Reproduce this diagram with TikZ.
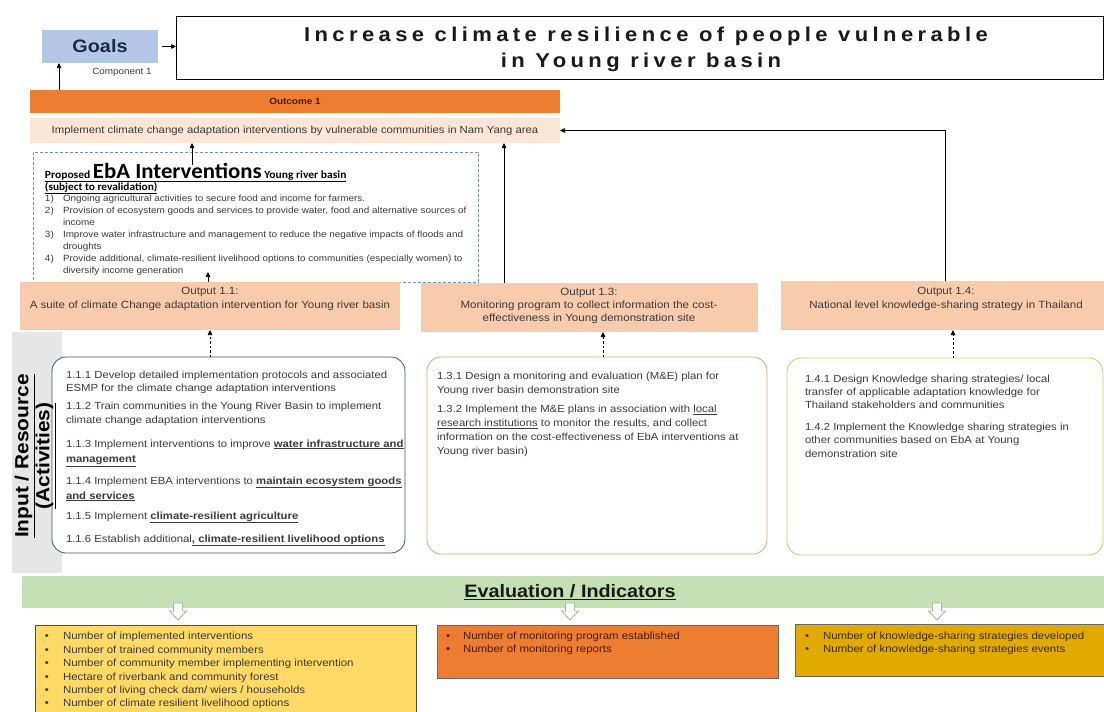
\documentclass[tikz,border=0pt]{standalone}
\usepackage{fontspec}
\setmainfont{Liberation Sans}[FakeStretch=1.1]
\newfontfamily\calib{Carlito}[FakeStretch=1.05]
\usetikzlibrary{arrows.meta}
\definecolor{goalblue}{HTML}{B4C7E7}
\definecolor{goaltxt}{HTML}{1F2A40}
\definecolor{orng}{HTML}{ED7D31}
\definecolor{peach}{HTML}{FBE5D6}
\definecolor{salmon}{HTML}{F8CBAD}
\definecolor{txt}{HTML}{3A3A3A}
\definecolor{dashblue}{HTML}{6F8FB5}
\definecolor{bandgray}{HTML}{E7E6E6}
\definecolor{slate}{HTML}{44546A}
\definecolor{lorange}{HTML}{E9A46E}
\definecolor{khaki}{HTML}{D6C36E}
\definecolor{evgreen}{HTML}{C5E0B4}
\definecolor{garrowc}{HTML}{9DC289}
\definecolor{yel}{HTML}{FFD966}
\definecolor{goldc}{HTML}{E2AA00}
\definecolor{redtxt}{HTML}{4A1A05}
\definecolor{goldtxt}{HTML}{3A2C00}
\begin{document}
\begin{tikzpicture}[x=1pt,y=-1pt,
  every node/.style={inner sep=0pt, outer sep=0pt},
  box/.style={anchor=north west, draw=none},
  ln/.style={anchor=base west, text=txt},
  actfont/.style={font=\fontsize{10.3}{12}\selectfont},
  itemfont/.style={font=\fontsize{9}{10}\selectfont},
  indfont/.style={font=\fontsize{10.4}{12}\selectfont},
  titlefont/.style={font=\fontsize{20}{22}\selectfont\bfseries\addfontfeature{LetterSpace=22}, text=black!90},
  arr/.style={-{Triangle[length=5pt,width=4.5pt]}, line width=0.7pt, draw=black},
  darr/.style={arr, dash pattern=on 2.5pt off 2pt},
  actbox/.style={anchor=north west, draw, line width=0.8pt, rounded corners=14pt, fill=white},
  outbox/.style={anchor=north west, fill=salmon},
  garrow/.pic={\draw[draw=garrowc, fill=white, line width=0.9pt] (-4.5,0) -- (4.5,0) -- (4.5,8) -- (8.5,8) -- (0,17) -- (-8.5,8) -- (-4.5,8) -- cycle;}
]
\useasboundingbox (0,0) rectangle (1104,712);
\fill[white] (0,0) rectangle (1104,712);

% Goals and title
\node[box, fill=goalblue, minimum width=116, minimum height=33, font=\fontsize{18}{20}\selectfont\bfseries, text=goaltxt] (goals) at (42,30) {Goals};
\node[font=\fontsize{9}{10}\selectfont, text=txt] (comp) at (122,72) {Component 1};
\node[box, draw=black, line width=0.8pt, minimum width=927, minimum height=63] (title) at (176,16) {};
\node[titlefont] (t1) at (646,36) {Increase climate resilience of people vulnerable};
\node[titlefont] (t2) at (641,62) {in Young river basin};
\draw[arr] ([xshift=4pt]goals.east) -- (goals.east -| title.west);

% Outcome
\node[box, fill=orng, minimum width=530, minimum height=23, font=\fontsize{9}{10}\selectfont\bfseries, text=redtxt] (obar) at (30,90) {Outcome 1};
\node[box, fill=peach, minimum width=530, minimum height=25, font=\fontsize{10.3}{12}\selectfont, text=txt] (odesc) at (30,118) {Implement climate change adaptation interventions by vulnerable communities in Nam Yang area};
\coordinate (g1) at ([xshift=29pt]obar.north west);
\draw[arr] (g1) -- (g1 |- goals.south);

% EbA box
\node[box, draw=dashblue, dash pattern=on 3pt off 2pt, line width=0.7pt, minimum width=445, minimum height=130] (eba) at (33,152) {};
\node[ln, text=black] (ebah) at (45,178) {\calib\bfseries\fontsize{11}{12}\selectfont\underline{Proposed {\fontsize{21.7}{22}\selectfont EbA Interventions} Young river basin}};
\node[ln, text=black] (ebas) at (45,190) {\calib\bfseries\fontsize{10.8}{12}\selectfont\underline{(subject to revalidation)}};
\node[ln, itemfont] (n1) at (45,201) {1)};
\node[ln, itemfont] (i1a) at (63,201) {Ongoing agricultural activities to secure food and income for farmers.};
\node[ln, itemfont] (n2) at (45,213) {2)};
\node[ln, itemfont] (i2a) at (63,213) {Provision of ecosystem goods and services to provide water, food and alternative sources of};
\node[ln, itemfont] (i2b) at (63,225) {income};
\node[ln, itemfont] (n3) at (45,237) {3)};
\node[ln, itemfont] (i3a) at (63,237) {Improve water infrastructure and management to reduce the negative impacts of floods and};
\node[ln, itemfont] (i3b) at (63,249) {droughts};
\node[ln, itemfont] (n4) at (45,261) {4)};
\node[ln, itemfont] (i4a) at (63,261) {Provide additional, climate-resilient livelihood options to communities (especially women) to};
\node[ln, itemfont] (i4b) at (63,273) {diversify income generation};
\coordinate (e1) at (192,165);
\draw[arr] (e1) -- (e1 |- odesc.south);

% Outputs
\node[outbox, minimum width=380, minimum height=48] (o11) at (20,282) {};
\node[align=center, font=\fontsize{10.5}{14}\selectfont, text=txt] (o11t) at (210,299) {Output 1.1:\\A suite of climate Change adaptation intervention for Young river basin};
\node[outbox, minimum width=337, minimum height=49] (o13) at (421,283) {};
\node[align=center, font=\fontsize{10.5}{13}\selectfont, text=txt] (o13t) at (589,306) {Output 1.3:\\Monitoring program to collect information the cost-\\effectiveness in Young demonstration site};
\node[outbox, minimum width=323, minimum height=49] (o14) at (781,281) {};
\node[align=center, font=\fontsize{10.5}{14}\selectfont, text=txt] (o14t) at (946,299) {Output 1.4:\\National level knowledge-sharing strategy in Thailand};

\coordinate (e2) at (208,272);
\draw[arr] (o11.north -| e2) -- (e2);
\coordinate (c13) at (504,0);
\draw[arr] (o13.north -| c13) -- (odesc.south -| c13);
\coordinate (c14) at (945,0);
\draw[arr] (o14.north -| c14) |- (odesc.east);

% Input band
\node[box, fill=bandgray, minimum width=50, minimum height=241] (gband) at (12,332) {};

% Activity boxes
\node[actbox, draw=slate, minimum width=353, minimum height=196] (a11) at (52,357) {};
\node[actbox, draw=lorange, minimum width=340, minimum height=197] (a13) at (427,357) {};
\node[actbox, draw=khaki, minimum width=316, minimum height=197] (a14) at (787,358) {};
\node[rotate=90, align=center, font=\fontsize{19}{21}\selectfont\bfseries, text=black] (inres) at (35,456) {\underline{Input / Resource}\\\underline{(Activities)}};

\node[ln, actfont] (a111) at (66,378.5) {1.1.1 Develop detailed implementation protocols and associated};
\node[ln, actfont] (a111b) at (66,391.5) {ESMP for the climate change adaptation interventions};
\node[ln, actfont] (a112) at (66,409.5) {1.1.2 Train communities in the Young River Basin to implement};
\node[ln, actfont] (a112b) at (66,423.5) {climate change adaptation interventions};
\node[ln, actfont] (a113) at (66,447) {1.1.3 Implement interventions to improve \underline{\textbf{water infrastructure and}}};
\node[ln, actfont] (a113b) at (66,462.5) {\underline{\textbf{management}}};
\node[ln, actfont] (a114) at (66,484) {1.1.4 Implement EBA interventions to \underline{\textbf{maintain ecosystem goods}}};
\node[ln, actfont] (a114b) at (66,499) {\underline{\textbf{and services}}};
\node[ln, actfont] (a115) at (66,519) {1.1.5 Implement \underline{\textbf{climate-resilient agriculture}}};
\node[ln, actfont] (a116) at (66,542) {1.1.6 Establish additional\underline{\textbf{, climate-resilient livelihood options}}};

\node[ln, actfont] (a131) at (437,379.5) {1.3.1 Design a monitoring and evaluation (M\&E) plan for};
\node[ln, actfont] (a131b) at (437,393.5) {Young river basin demonstration site};
\node[ln, actfont] (a132) at (437,412.5) {1.3.2 Implement the M\&E plans in association with \underline{local}};
\node[ln, actfont] (a132b) at (437,426.5) {\underline{research institutions} to monitor the results, and collect};
\node[ln, actfont] (a132c) at (437,440.5) {information on the cost-effectiveness of EbA interventions at};
\node[ln, actfont] (a132d) at (437,454.5) {Young river basin)};

\node[ln, actfont] (a141) at (805,382.5) {1.4.1 Design Knowledge sharing strategies/ local};
\node[ln, actfont] (a141b) at (805,395.5) {transfer of applicable adaptation knowledge for};
\node[ln, actfont] (a141c) at (805,408.5) {Thailand stakeholders and communities};
\node[ln, actfont] (a142) at (805,430) {1.4.2 Implement the Knowledge sharing strategies in};
\node[ln, actfont] (a142b) at (805,443.5) {other communities based on EbA at Young};
\node[ln, actfont] (a142c) at (805,457) {demonstration site};

\coordinate (d11) at (210,0);
\draw[darr] (a11.north -| d11) -- (o11.south -| d11);
\coordinate (d13) at (603,0);
\draw[darr] (a13.north -| d13) -- (o13.south -| d13);
\coordinate (d14) at (953,0);
\draw[darr] (a14.north -| d14) -- (o14.south -| d14);

% Evaluation band
\node[box, fill=evgreen, minimum width=1082, minimum height=32] (evb) at (22,576) {};
\node[font=\fontsize{18}{20}\selectfont\bfseries, text=black!90] (evt) at (570,592) {\underline{Evaluation / Indicators}};
\pic at (178,603) {garrow};
\pic at (570,603) {garrow};
\pic at (937,603) {garrow};

% Indicator boxes
\node[box, fill=yel, draw=black!70, line width=0.6pt, minimum width=381, minimum height=90] (ind1) at (35,625) {};
\node[box, fill=orng, draw=black!60, line width=0.6pt, minimum width=341, minimum height=53] (ind2) at (437,625) {};
\node[box, fill=goldc, draw=black!60, line width=0.6pt, minimum width=309, minimum height=52] (ind3) at (795,624) {};

\node[ln, indfont] (b1) at (45,639.5) {\textbullet};
\node[ln, indfont] (y1) at (63,639.5) {Number of implemented interventions};
\node[ln, indfont] (b2) at (45,653.5) {\textbullet};
\node[ln, indfont] (y2) at (63,653.5) {Number of trained community members};
\node[ln, indfont] (b3) at (45,666.5) {\textbullet};
\node[ln, indfont] (y3) at (63,666.5) {Number of community member implementing intervention};
\node[ln, indfont] (b4) at (45,680.5) {\textbullet};
\node[ln, indfont] (y4) at (63,680.5) {Hectare of riverbank and community forest};
\node[ln, indfont] (b5) at (45,693.5) {\textbullet};
\node[ln, indfont] (y5) at (63,693.5) {Number of living check dam/ wiers / households};
\node[ln, indfont] (b6) at (45,706.5) {\textbullet};
\node[ln, indfont] (y6) at (63,706.5) {Number of climate resilient livelihood options};

\node[ln, indfont, text=redtxt] (b7) at (446,639.5) {\textbullet};
\node[ln, indfont, text=redtxt] (r1) at (463,639.5) {Number of monitoring program established};
\node[ln, indfont, text=redtxt] (b8) at (446,652.5) {\textbullet};
\node[ln, indfont, text=redtxt] (r2) at (463,652.5) {Number of monitoring reports};

\node[ln, indfont, text=goldtxt] (b9) at (805,639.5) {\textbullet};
\node[ln, indfont, text=goldtxt] (k1) at (823,639.5) {Number of knowledge-sharing strategies developed};
\node[ln, indfont, text=goldtxt] (b10) at (805,652.5) {\textbullet};
\node[ln, indfont, text=goldtxt] (k2) at (823,652.5) {Number of knowledge-sharing strategies events};
\end{tikzpicture}
\end{document}
